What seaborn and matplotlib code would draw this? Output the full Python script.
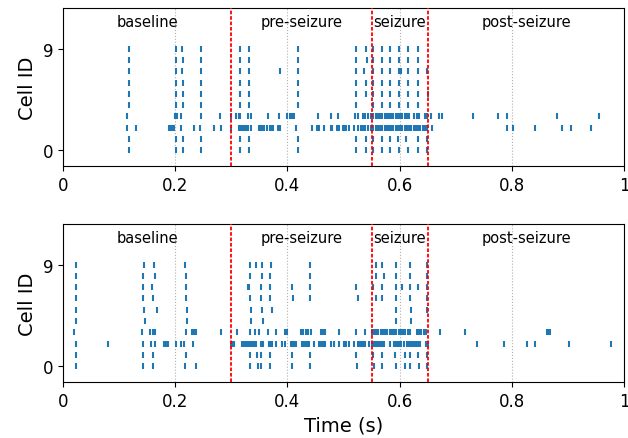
import numpy as np
import pandas as pd
import seaborn as sns
from matplotlib import pyplot as plt

# epoch boundaries (s) and names
bounds = [0.0, 0.3, 0.55, 0.65, 1.0]
epoch_names = ["baseline", "pre-seizure", "seizure", "post-seizure"]

# --- trial 1 (top panel): spike times per cell ---
top_c0 = [0.118, 0.201, 0.214, 0.247, 0.316, 0.332, 0.419, 0.522, 0.540, 0.553, 0.568, 0.583, 0.599, 0.614, 0.633, 0.649]
top_c1 = [0.118, 0.201, 0.214, 0.247, 0.316, 0.332, 0.419, 0.522, 0.540, 0.553, 0.568, 0.583, 0.597, 0.612, 0.632, 0.648]
top_c2 = [0.115, 0.130, 0.189, 0.192, 0.195, 0.198, 0.210, 0.234, 0.245, 0.270, 0.281, 0.300, 0.314, 0.317,
          0.320, 0.323, 0.327, 0.330, 0.335, 0.350, 0.353, 0.356, 0.359, 0.363, 0.369, 0.372, 0.375, 0.383,
          0.386, 0.415, 0.443, 0.453, 0.457, 0.465, 0.477, 0.480, 0.489, 0.492, 0.499, 0.502, 0.505, 0.510,
          0.519, 0.525, 0.531, 0.534, 0.538, 0.543, 0.549, 0.553, 0.557, 0.561, 0.565, 0.569, 0.573, 0.577,
          0.581, 0.585, 0.589, 0.593, 0.597, 0.601, 0.605, 0.609, 0.613, 0.617, 0.621, 0.625, 0.629, 0.633,
          0.637, 0.641, 0.645, 0.648, 0.657, 0.791, 0.801, 0.841, 0.890, 0.906, 0.940]
top_c3 = [0.114, 0.200, 0.203, 0.211, 0.246, 0.280, 0.299, 0.309, 0.313, 0.316, 0.329, 0.335, 0.365, 0.385,
          0.400, 0.404, 0.408, 0.411, 0.455, 0.478, 0.490, 0.521, 0.525, 0.534, 0.538, 0.543, 0.549, 0.553,
          0.557, 0.561, 0.565, 0.569, 0.573, 0.577, 0.581, 0.585, 0.589, 0.593, 0.597, 0.601, 0.605, 0.609,
          0.613, 0.617, 0.626, 0.630, 0.634, 0.645, 0.648, 0.655, 0.670, 0.675, 0.730, 0.775, 0.791, 0.880, 0.955]
top_c4 = [0.118, 0.201, 0.214, 0.247, 0.316, 0.332, 0.419, 0.523, 0.553, 0.568, 0.583, 0.599, 0.614, 0.633]
top_c5 = [0.118, 0.201, 0.214, 0.247, 0.316, 0.332, 0.419, 0.523, 0.540, 0.552, 0.568, 0.583, 0.598, 0.614, 0.633, 0.651]
top_c6 = [0.118, 0.201, 0.214, 0.247, 0.316, 0.332, 0.419, 0.523, 0.540, 0.553, 0.568, 0.583, 0.599, 0.614, 0.633]
top_c7 = [0.118, 0.201, 0.213, 0.247, 0.316, 0.332, 0.387, 0.419, 0.522, 0.537, 0.552, 0.568, 0.583, 0.598,
          0.602, 0.614, 0.633, 0.648]
top_c8 = [0.118, 0.201, 0.214, 0.247, 0.316, 0.332, 0.419, 0.523, 0.542, 0.553, 0.568, 0.583, 0.599, 0.614, 0.633]
top_c9 = [0.118, 0.201, 0.213, 0.247, 0.316, 0.332, 0.419, 0.522, 0.540, 0.553, 0.568, 0.583, 0.599, 0.614, 0.633]

# --- trial 2 (bottom panel) ---
bot_c0 = [0.023, 0.143, 0.161, 0.218, 0.238, 0.333, 0.348, 0.353, 0.369, 0.409, 0.440, 0.524, 0.554, 0.568,
          0.593, 0.609, 0.618, 0.635, 0.648]
bot_c1 = [0.023, 0.143, 0.161, 0.219, 0.333, 0.346, 0.353, 0.369, 0.408, 0.440, 0.523, 0.553, 0.568, 0.592,
          0.609, 0.618, 0.633, 0.648]
bot_c2 = [0.023, 0.081, 0.142, 0.157, 0.164, 0.181, 0.184, 0.187, 0.201, 0.210, 0.215, 0.232, 0.299, 0.302,
          0.305, 0.320, 0.323, 0.327, 0.330, 0.333, 0.337, 0.340, 0.344, 0.353, 0.356, 0.367, 0.370, 0.373,
          0.380, 0.390, 0.396, 0.406, 0.409, 0.412, 0.416, 0.426, 0.429, 0.432, 0.435, 0.439, 0.448, 0.457,
          0.460, 0.463, 0.467, 0.477, 0.483, 0.492, 0.501, 0.505, 0.509, 0.519, 0.525, 0.530, 0.533, 0.536,
          0.539, 0.545, 0.550, 0.553, 0.556, 0.559, 0.562, 0.565, 0.568, 0.572, 0.582, 0.590, 0.593, 0.596,
          0.599, 0.602, 0.607, 0.613, 0.616, 0.619, 0.622, 0.625, 0.629, 0.632, 0.636, 0.647, 0.651, 0.737,
          0.786, 0.826, 0.841, 0.901, 0.977]
bot_c3 = [0.020, 0.141, 0.156, 0.161, 0.164, 0.219, 0.231, 0.234, 0.237, 0.281, 0.311, 0.333, 0.342, 0.350,
          0.366, 0.380, 0.396, 0.400, 0.424, 0.428, 0.433, 0.437, 0.442, 0.460, 0.464, 0.467, 0.492, 0.522,
          0.538, 0.550, 0.554, 0.558, 0.562, 0.566, 0.570, 0.574, 0.578, 0.582, 0.586, 0.590, 0.594, 0.598,
          0.602, 0.606, 0.610, 0.614, 0.619, 0.630, 0.634, 0.638, 0.644, 0.647, 0.671, 0.716, 0.862, 0.865, 0.867]
bot_c4 = [0.024, 0.146, 0.222, 0.336, 0.356, 0.594, 0.620]
bot_c5 = [0.023, 0.145, 0.167, 0.221, 0.335, 0.354, 0.372, 0.594, 0.620, 0.649]
bot_c6 = [0.023, 0.143, 0.161, 0.220, 0.333, 0.353, 0.369, 0.410, 0.440, 0.525, 0.557, 0.569, 0.594, 0.618, 0.648]
bot_c7 = [0.023, 0.142, 0.159, 0.219, 0.329, 0.332, 0.353, 0.369, 0.408, 0.440, 0.523, 0.553, 0.568, 0.593,
          0.605, 0.619, 0.633, 0.648]
bot_c8 = [0.023, 0.143, 0.164, 0.219, 0.333, 0.354, 0.369, 0.440, 0.557, 0.572, 0.594, 0.619, 0.648]
bot_c9 = [0.023, 0.144, 0.163, 0.218, 0.333, 0.344, 0.354, 0.370, 0.440, 0.557, 0.569, 0.594, 0.618, 0.648]

trials = [
    [top_c0, top_c1, top_c2, top_c3, top_c4, top_c5, top_c6, top_c7, top_c8, top_c9],
    [bot_c0, bot_c1, bot_c2, bot_c3, bot_c4, bot_c5, bot_c6, bot_c7, bot_c8, bot_c9],
]


def to_long(cells):
    rows = [(t, i) for i, times in enumerate(cells) for t in times]
    return pd.DataFrame(rows, columns=["time", "cell"])


sns.set_style("ticks")
plt.rcParams["font.family"] = ["DejaVu Sans"]
plt.rcParams["text.color"] = "black"
plt.rcParams["axes.labelcolor"] = "black"

fig, axes = plt.subplots(2, 1, figsize=(6.28, 4.39), dpi=100)
fig.subplots_adjust(left=0.100, right=0.994, top=0.979, bottom=0.128, hspace=0.37)

for ax, cells in zip(axes, trials):
    df = to_long(cells)
    sns.scatterplot(data=df, x="time", y="cell", marker="|", s=22, linewidth=1.5,
                    color="#1f77b4", ax=ax, legend=False)
    for b in bounds[1:-1]:
        ax.axvline(b, color="red", linestyle=(0, (2, 1)), linewidth=1.3, zorder=3)
    for name, lo, hi in zip(epoch_names, bounds[:-1], bounds[1:]):
        ax.text((lo + hi) / 2, 0.918, name, transform=ax.get_xaxis_transform(),
                ha="center", va="center", fontsize=10.5, color="black")
    ax.set_xlim(0, 1)
    ax.set_ylim(-1.4, 12.6)
    ax.set_yticks([0, 9])
    ax.set_xticks([0, 0.2, 0.4, 0.6, 0.8, 1.0])
    ax.set_xticklabels(["0", "0.2", "0.4", "0.6", "0.8", "1"])
    ax.tick_params(labelsize=12, colors="black", length=3.5, width=0.8)
    ax.grid(axis="x", linestyle=":", color="#b0b0b0", linewidth=0.8)
    ax.set_axisbelow(True)
    for s in ax.spines.values():
        s.set_color("black")
        s.set_linewidth(0.8)
    ax.set_ylabel("Cell ID", fontsize=14)
    ax.set_xlabel("")

axes[1].set_xlabel("Time (s)", fontsize=14)

fig.savefig("out.png")
